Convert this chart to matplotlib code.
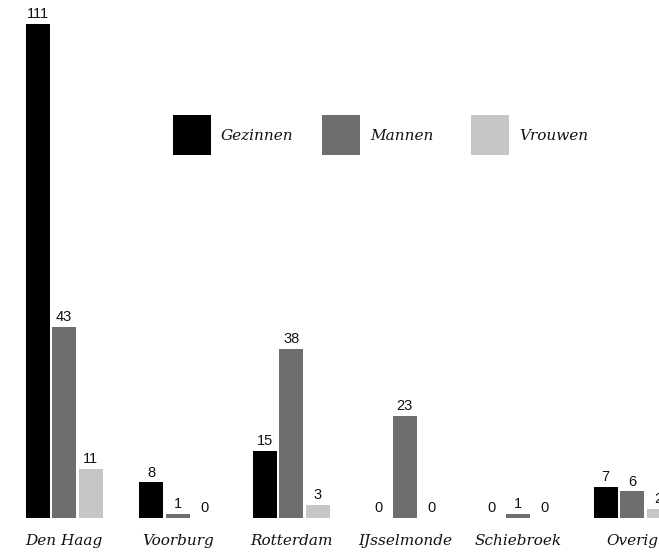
import matplotlib.pyplot as plt
import numpy as np
from matplotlib.patches import Rectangle

# data
categories = ["Den Haag", "Voorburg", "Rotterdam", "IJsselmonde", "Schiebroek", "Overig"]
series = ["Gezinnen", "Mannen", "Vrouwen"]
gezinnen = [111, 8, 15, 0, 0, 7]
mannen = [43, 1, 38, 23, 1, 6]
vrouwen = [11, 0, 3, 0, 0, 2]
colors = ["#000000", "#6e6e6e", "#c6c6c6"]

W, H = 659, 554
fig = plt.figure(figsize=(W / 100, H / 100), dpi=100)
ax = fig.add_axes([0, 0, 1, 1])
ax.axis("off")

group_px = 113.6      # distance between group centres in pixels
px_unit = 4.45        # pixels per count
x = np.arange(len(categories))
width = 24 / group_px
step = 26.5 / group_px

for k, (vals, col) in enumerate(zip([gezinnen, mannen, vrouwen], colors)):
    xs = x + (k - 1) * step
    ax.bar(xs, vals, width=width, color=col)
    for xi, v in zip(xs, vals):
        ax.annotate(str(v), (xi, v), xytext=(0, 2), textcoords="offset points",
                    ha="center", va="bottom", fontsize=10.5,
                    family="Liberation Sans", color="#111111")

for xi, name in zip(x, categories):
    ax.annotate(name, (xi, 0), xytext=(0, -16.5), textcoords="offset points",
                ha="center", va="center", fontsize=11, style="italic",
                family="DejaVu Serif", color="#111111")

ax.set_xlim(-64 / group_px, (W - 64) / group_px)
ax.set_ylim(-36 / px_unit, (H - 36) / px_unit)

# legend drawn by hand (fixed-width columns)
for i, (name, col) in enumerate(zip(series, colors)):
    x0 = (173 + i * 149) / W
    y0 = (H - 155) / H
    fig.add_artist(Rectangle((x0, y0), 38 / W, 40 / H, transform=fig.transFigure,
                             color=col, lw=0))
    fig.text(x0 + 48 / W, (H - 136) / H, name, ha="left", va="center",
             fontsize=11, style="italic", family="DejaVu Serif", color="#111111")

fig.savefig("out.png", dpi=100)
